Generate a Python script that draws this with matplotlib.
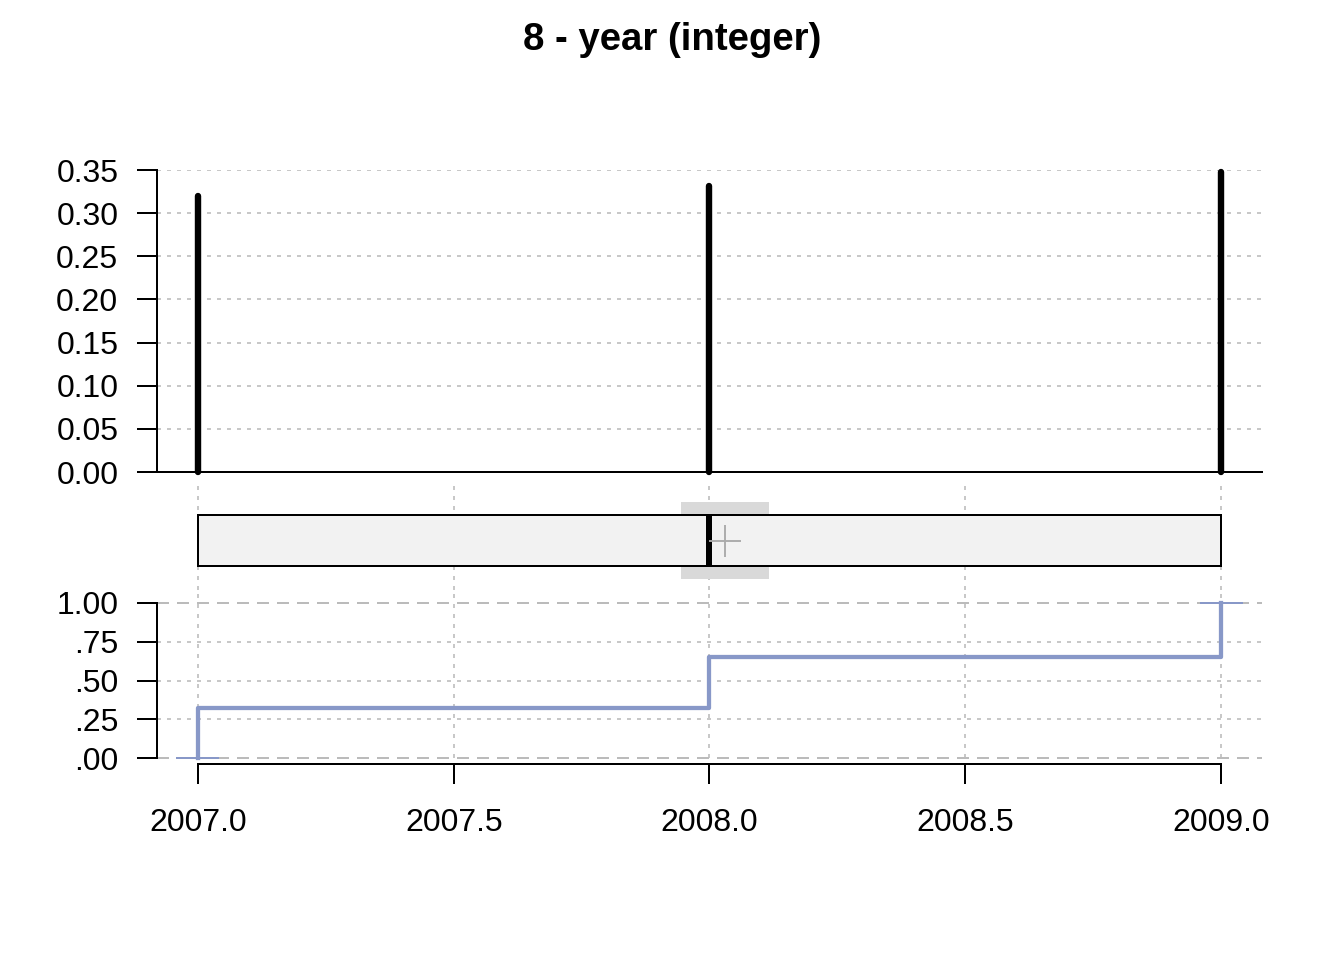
import matplotlib
matplotlib.use("Agg")
import matplotlib.pyplot as plt
import numpy as np

plt.rcParams['font.family'] = ['Liberation Sans', 'DejaVu Sans']

# data
years = [2007, 2008, 2009]
props = [0.32, 0.332, 0.348]
box_q1, box_median, box_q3 = 2007, 2008, 2009
box_mean = 2008.03
mean_ci = 0.086
x_ticks = [2007.0, 2007.5, 2008.0, 2008.5, 2009.0]
x_labels = ["2007.0", "2007.5", "2008.0", "2008.5", "2009.0"]
p_ticks = [0, 0.05, 0.10, 0.15, 0.20, 0.25, 0.30, 0.35]
p_labels = ["0.00", "0.05", "0.10", "0.15", "0.20", "0.25", "0.30", "0.35"]
cdf_ticks = [0, 0.25, 0.5, 0.75, 1.0]
cdf_labels = [".00", ".25", ".50", ".75", "1.00"]

W, H = 1344, 960
grid_col = "#c8c8c8"
ecdf_col = "#8898c8"
xlim = (2006.92, 2009.08)


def pos(left, top, right, bottom):
    return [left / W, 1 - bottom / H, (right - left) / W, (bottom - top) / H]


fig = plt.figure(figsize=(7, 5), dpi=192)
fig.text(0.5, 1 - 40 / H, "8 - year (integer)", ha="center", va="center",
         fontsize=14.4, fontweight="bold")

# --- top: proportions
ax1 = fig.add_axes(pos(157, 170, 1262, 472))
ax1.set_xlim(*xlim)
ax1.set_ylim(0, 0.35)
for y in p_ticks:
    ax1.axhline(y, color=grid_col, lw=0.75, dashes=(2, 3), zorder=0)
ax1.vlines(years, 0, props, color="black", lw=2.4, capstyle="round",
           zorder=3, clip_on=False)
ax1.spines[["top", "right"]].set_visible(False)
ax1.spines["left"].set_bounds(0, 0.35)
for s in ("left", "bottom"):
    ax1.spines[s].set_linewidth(0.75)
ax1.set_xticks([])
ax1.set_yticks(p_ticks, p_labels)
ax1.tick_params(axis="y", length=7.5, width=0.75, pad=7, labelsize=12)

# --- middle: box plot
ax2 = fig.add_axes(pos(157, 483, 1262, 590))
ax2.set_xlim(*xlim)
ax2.set_ylim(-0.97, 1.13)
ax2.axis("off")
ax2.vlines(x_ticks, -0.97, 1.13, color=grid_col, lw=0.75, linestyles=(0, (2, 3)), zorder=0)
ax2.add_patch(plt.Rectangle((box_mean - mean_ci, -0.75), 2 * mean_ci, 1.5,
                            facecolor="#d9d9d9", edgecolor="none", zorder=1))
ax2.add_patch(plt.Rectangle((box_q1, -0.5), box_q3 - box_q1, 1.0,
                            facecolor="#f2f2f2", edgecolor="black", lw=0.75, zorder=2))
ax2.plot([box_median, box_median], [-0.5, 0.5], color="black", lw=2.25,
         solid_capstyle="butt", zorder=3)
ax2.plot([box_mean], [0], marker="+", ms=12, mew=0.7, color="#aaaaaa", zorder=4)

# --- bottom: ECDF
ax3 = fig.add_axes(pos(157, 590, 1262, 764))
ax3.set_xlim(*xlim)
ax3.set_ylim(-6 / 155, 1 + 13 / 155)
ax3.vlines(x_ticks, 0, 1 + 13 / 155, color=grid_col, lw=0.75, linestyles=(0, (2, 3)), zorder=0)
for y in cdf_ticks:
    if y in (0, 1.0):
        ax3.axhline(y, color="#bbbbbb", lw=0.75, dashes=(6, 4), zorder=0)
    else:
        ax3.axhline(y, color=grid_col, lw=0.75, dashes=(2, 3), zorder=0)
cum = np.cumsum(props)
cum[-1] = 1.0
step_x = [years[0]]
step_y = [0.0]
for i, yr in enumerate(years):
    step_x += [yr]
    step_y += [cum[i]]
    if i + 1 < len(years):
        step_x += [years[i + 1]]
        step_y += [cum[i]]
ax3.plot(step_x, step_y, color=ecdf_col, lw=1.6, zorder=3)
ax3.plot([years[0] - 0.04, years[0] + 0.04], [0, 0], color=ecdf_col, lw=0.75, zorder=3)
ax3.plot([years[-1] - 0.04, years[-1] + 0.04], [1, 1], color=ecdf_col, lw=0.75, zorder=3)
ax3.spines[["top", "right"]].set_visible(False)
ax3.spines["left"].set_bounds(0, 1)
ax3.spines["bottom"].set_bounds(2007, 2009)
for s in ("left", "bottom"):
    ax3.spines[s].set_linewidth(0.75)
ax3.set_xticks(x_ticks, x_labels)
ax3.set_yticks(cdf_ticks, cdf_labels)
ax3.tick_params(axis="y", length=7.5, width=0.75, pad=7, labelsize=12)
ax3.tick_params(axis="x", length=7.5, width=0.75, pad=9, labelsize=12)

fig.savefig("out.png", dpi=192)
